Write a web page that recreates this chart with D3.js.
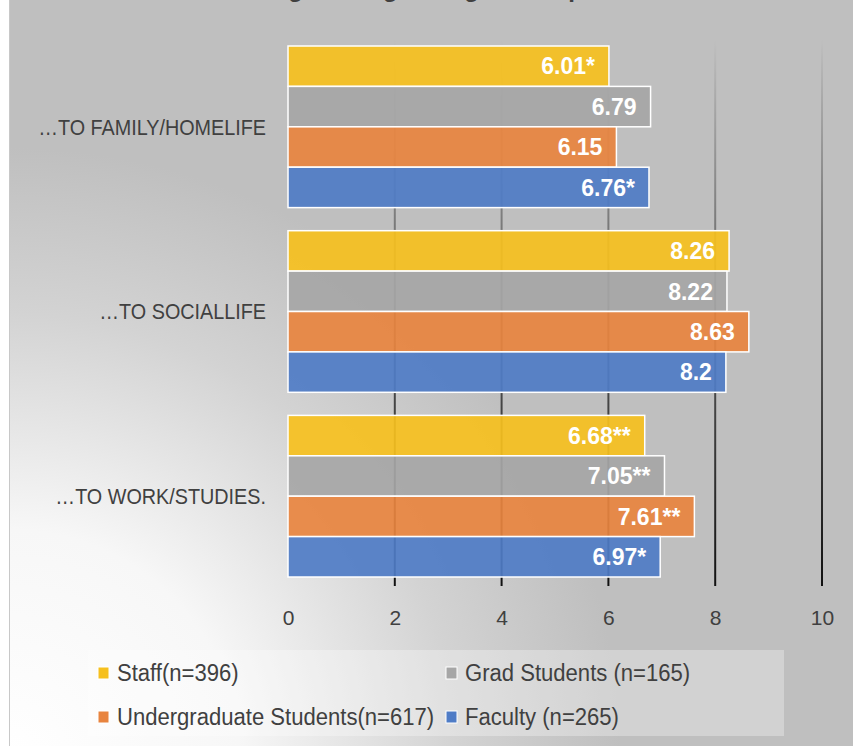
<!DOCTYPE html>
<html lang="en">
<head>
<meta charset="utf-8">
<script src="https://d3js.org/d3.v7.min.js"></script>
<style>
  body { margin: 0; background: #fff; }
  svg { display: block; }
</style>
</head>
<body>
<script>
  var width = 853, height = 746;

  // data
  var categories = ['\u2026TO FAMILY/HOMELIFE', '\u2026TO SOCIALLIFE', '\u2026TO WORK/STUDIES.'];
  var series = ['Staff', 'Grad Students', 'Undergraduate Students', 'Faculty'];
  var legendLabels = ['Staff(n=396)', 'Grad Students (n=165)', 'Undergraduate Students(n=617)', 'Faculty (n=265)'];
  var colors = ['#f6c01e', '#a6a6a6', '#e8843f', '#4f7cc6'];
  var staff = [6.01, 8.26, 6.68];
  var grad = [6.79, 8.22, 7.05];
  var undergrad = [6.15, 8.63, 7.61];
  var faculty = [6.76, 8.2, 6.97];
  var marks = [['*', '', '**'], ['', '', '**'], ['', '', '**'], ['*', '', '*']];
  var ticks = [0, 2, 4, 6, 8, 10];

  var values = [staff, grad, undergrad, faculty];

  var svg = d3.select('body').append('svg')
    .attr('width', width)
    .attr('height', height);

  var defs = svg.append('defs');
  var bg = defs.append('radialGradient')
    .attr('id', 'bg')
    .attr('gradientUnits', 'userSpaceOnUse')
    .attr('cx', 9).attr('cy', 760).attr('r', 720);
  bg.append('stop').attr('offset', 0).attr('stop-color', '#ffffff');
  bg.append('stop').attr('offset', 0.32).attr('stop-color', '#f7f7f7');
  bg.append('stop').attr('offset', 0.62).attr('stop-color', '#d3d3d3');
  bg.append('stop').attr('offset', 0.85).attr('stop-color', '#bfbfbf');
  bg.append('stop').attr('offset', 1).attr('stop-color', '#bfbfbf');

  var gl = defs.append('linearGradient')
    .attr('id', 'grid')
    .attr('gradientUnits', 'userSpaceOnUse')
    .attr('x1', 0).attr('y1', 40).attr('x2', 0).attr('y2', 586);
  gl.append('stop').attr('offset', 0).attr('stop-color', '#bfbfbf');
  gl.append('stop').attr('offset', 0.35).attr('stop-color', '#777');
  gl.append('stop').attr('offset', 1).attr('stop-color', '#111');

  // chart area
  svg.append('rect')
    .attr('x', 9.5).attr('y', -2)
    .attr('width', width).attr('height', height + 4)
    .attr('fill', 'url(#bg)')
    .attr('stroke', '#c8c8c8');

  // title, mostly above the visible area (cut off in the original too)
  svg.append('text')
    .attr('x', 420).attr('y', -3)
    .attr('text-anchor', 'middle')
    .style('font', 'bold 24px "Liberation Sans", Arial, sans-serif')
    .attr('fill', '#404040')
    .text('Average Rating of Negative Impact');

  var x = d3.scaleLinear().domain([0, 10]).range([288, 822]);

  var y = d3.scaleBand().domain(categories)
    .range([46, 577])
    .paddingInner(0.125);

  var ys = d3.scaleBand().domain(series)
    .range([0, y.bandwidth()]);

  // gridlines
  svg.append('g')
    .selectAll('line')
    .data(ticks.slice(1))
    .join('line')
    .attr('x1', function(d) { return x(d); })
    .attr('x2', function(d) { return x(d); })
    .attr('y1', 40)
    .attr('y2', 586)
    .attr('stroke', 'url(#grid)')
    .attr('stroke-width', 2);

  // bars
  var rows = [];
  categories.forEach(function(c, ci) {
    series.forEach(function(s, si) {
      rows.push({ cat: c, ser: s, si: si, v: values[si][ci], mark: marks[si][ci] });
    });
  });

  svg.append('g')
    .selectAll('rect')
    .data(rows)
    .join('rect')
    .attr('x', x(0))
    .attr('y', function(d) { return y(d.cat) + ys(d.ser); })
    .attr('width', function(d) { return x(d.v) - x(0); })
    .attr('height', ys.bandwidth())
    .attr('fill', function(d) { return colors[d.si]; })
    .attr('fill-opacity', 0.92)
    .attr('stroke', '#fff')
    .attr('stroke-width', 1.5);

  svg.append('g')
    .selectAll('text')
    .data(rows)
    .join('text')
    .attr('x', function(d) { return x(d.v) - 14; })
    .attr('y', function(d) { return y(d.cat) + ys(d.ser) + ys.bandwidth() / 2; })
    .attr('dy', '0.36em')
    .attr('text-anchor', 'end')
    .attr('fill', '#fff')
    .style('font', 'bold 23px "Liberation Sans", Arial, sans-serif')
    .text(function(d) { return d.v + d.mark; });

  // category labels (narrow face in the original)
  svg.append('g')
    .selectAll('text')
    .data(categories)
    .join('text')
    .attr('transform', function(d) {
      return 'translate(266,' + (y(d) + y.bandwidth() / 2) + ') scale(0.9,1)';
    })
    .attr('dy', '0.36em')
    .attr('text-anchor', 'end')
    .attr('fill', '#404040')
    .style('font', '22px "Liberation Sans", Arial, sans-serif')
    .text(function(d) { return d; });

  // x axis labels
  var xAxis = svg.append('g')
    .attr('transform', 'translate(0,596)')
    .call(d3.axisBottom(x).tickValues(ticks).tickSize(0).tickPadding(14));
  xAxis.select('.domain').remove();
  xAxis.selectAll('text')
    .attr('fill', '#404040')
    .style('font', '21px "Liberation Sans", Arial, sans-serif');

  // legend
  var legend = svg.append('g');
  legend.append('rect')
    .attr('x', 88).attr('y', 650)
    .attr('width', 696).attr('height', 86)
    .attr('fill', '#fff')
    .attr('fill-opacity', 0.3);

  var lx = [98, 446, 98, 446];
  var ly = [673, 673, 717, 717];
  var item = legend.selectAll('g')
    .data(legendLabels)
    .join('g')
    .attr('transform', function(d, i) { return 'translate(' + lx[i] + ',' + ly[i] + ')'; });
  item.append('rect')
    .attr('x', 0).attr('y', -6)
    .attr('width', 11).attr('height', 12)
    .attr('fill', function(d, i) { return colors[i]; })
    .attr('stroke', '#fff')
    .attr('stroke-width', 1);
  item.append('text')
    .attr('transform', 'translate(19,0) scale(0.96,1)')
    .attr('dy', '0.36em')
    .attr('fill', '#404040')
    .style('font', '23px "Liberation Sans", Arial, sans-serif')
    .text(function(d) { return d; });
</script>
</body>
</html>
